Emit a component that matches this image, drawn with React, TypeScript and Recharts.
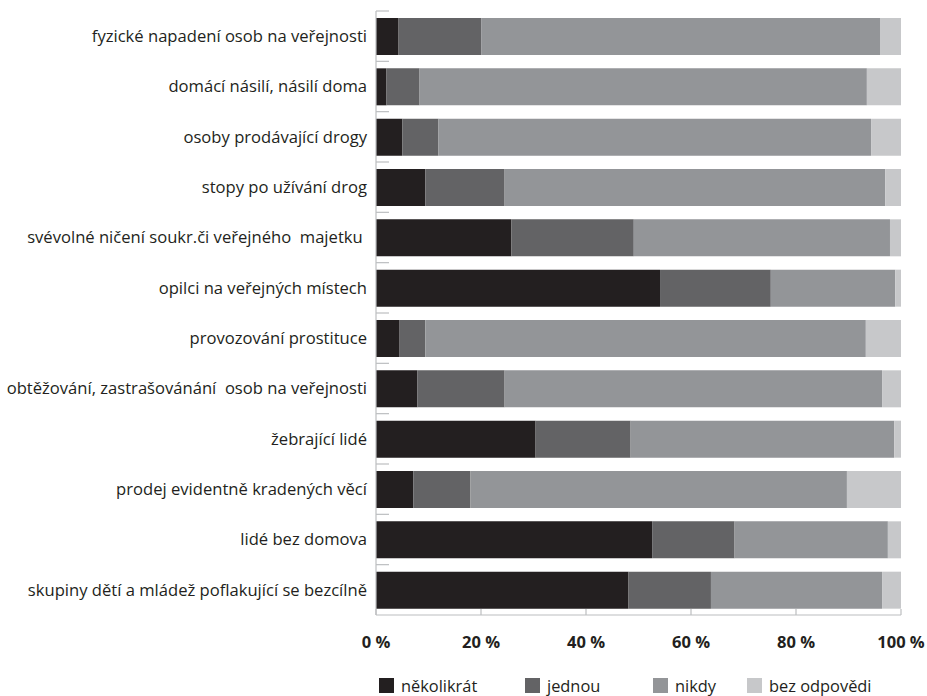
import { BarChart, Bar, XAxis, YAxis, Legend } from "recharts"

// ------------------------------------------------------------
// Data (percent of respondents)
// ------------------------------------------------------------

const categories = [
  "fyzické napadení osob na veřejnosti",
  "domácí násilí, násilí doma",
  "osoby prodávající drogy",
  "stopy po užívání drog",
  "svévolné ničení soukr.či veřejného  majetku ",
  "opilci na veřejných místech",
  "provozování prostituce",
  "obtěžování, zastrašovánání  osob na veřejnosti",
  "žebrající lidé",
  "prodej evidentně kradených věcí",
  "lidé bez domova",
  "skupiny dětí a mládež poflakující se bezcílně",
]

const severalTimes = [4.3, 2.0, 5.0, 9.4, 25.8, 54.1, 4.5, 7.9, 30.4, 7.1, 52.6, 48.1]
const once = [15.8, 6.3, 6.9, 15.1, 23.3, 21.1, 4.9, 16.6, 18.1, 10.9, 15.7, 15.7]
const never = [75.9, 85.2, 82.4, 72.5, 48.8, 23.7, 83.9, 71.9, 50.2, 71.7, 29.2, 32.6]
const noAnswer = [4.0, 6.5, 5.7, 3.0, 2.1, 1.1, 6.7, 3.6, 1.3, 10.3, 2.5, 3.6]

const xTicks = [0, 20, 40, 60, 80, 100]

const series = [
  { key: "several", label: "několikrát", color: "#231f20", values: severalTimes },
  { key: "once", label: "jednou", color: "#636365", values: once },
  { key: "never", label: "nikdy", color: "#939598", values: never },
  { key: "none", label: "bez odpovědi", color: "#c7c8ca", values: noAnswer },
]

const chartData = categories.map((name, i) => {
  const row: Record<string, string | number> = { name }
  for (const s of series) row[s.key] = s.values[i]
  return row
})

// ------------------------------------------------------------
// Layout
// ------------------------------------------------------------

const W = 927
const H = 696
const MARGIN = { top: 11, right: 26, left: 0, bottom: 0 }
const Y_AXIS_W = 376
const X_AXIS_H = 41
const LEGEND_H = 40
const PLOT_H = H - MARGIN.top - MARGIN.bottom - X_AXIS_H - LEGEND_H
const BAND = PLOT_H / categories.length

const AXIS = "#bcbec0"
const FONT = "'Open Sans', sans-serif"
const TEXT = "#231f20"

// left of the legend squares
const legendLeft = [379, 525, 653, 747]

function CategoryTick(props: any) {
  const { x, y, payload } = props
  const top = y - BAND / 2
  return (
    <g>
      <line x1={x} x2={x + 13} y1={top} y2={top} stroke={AXIS} strokeWidth={1.2} />
      <text
        x={x - 9}
        y={y}
        dy="0.35em"
        textAnchor="end"
        fontFamily={FONT}
        fontSize={16.6}
        fill={TEXT}
        style={{ whiteSpace: "pre" }}
      >
        {payload.value}
      </text>
    </g>
  )
}

function PercentTick(props: any) {
  const { x, y, payload } = props
  return (
    <g>
      <line x1={x} x2={x} y1={y - 6} y2={y} stroke={AXIS} strokeWidth={1.2} />
      <text
        x={x}
        y={y + 27}
        dy="0.35em"
        textAnchor="middle"
        fontFamily={FONT}
        fontWeight={700}
        fontSize={16.5}
        fill={TEXT}
      >
        {payload.value} %
      </text>
    </g>
  )
}

function LegendContent() {
  return (
    <div style={{ position: "relative", width: W, height: LEGEND_H }}>
      {series.map((s, i) => (
        <div
          key={s.key}
          style={{
            position: "absolute",
            left: legendLeft[i],
            top: 21,
            display: "flex",
            alignItems: "center",
            height: 17,
            lineHeight: "17px",
            fontFamily: FONT,
            fontSize: 16.4,
            color: TEXT,
            whiteSpace: "nowrap",
          }}
        >
          <span style={{ width: 15, height: 15, background: s.color, marginRight: 7, display: "inline-block" }} />
          {s.label}
        </div>
      ))}
    </div>
  )
}

export default function App() {
  return (
    <div style={{ position: "absolute", left: 0, top: 0, width: W, height: H, background: "#fff" }}>
      <BarChart width={W} height={H} data={chartData} layout="vertical" margin={MARGIN} barSize={37}>
        <XAxis
          type="number"
          domain={[0, 100]}
          ticks={xTicks}
          interval={0}
          height={X_AXIS_H}
          axisLine={{ stroke: AXIS, strokeWidth: 1.2 }}
          tickLine={false}
          tickSize={0}
          tickMargin={0}
          tick={<PercentTick />}
        />
        <YAxis
          type="category"
          dataKey="name"
          width={Y_AXIS_W}
          interval={0}
          axisLine={{ stroke: AXIS, strokeWidth: 1.2 }}
          tickLine={false}
          tickSize={0}
          tickMargin={0}
          tick={<CategoryTick />}
        />
        <Legend
          verticalAlign="bottom"
          height={LEGEND_H}
          wrapperStyle={{ left: 0, width: W, height: LEGEND_H }}
          content={<LegendContent />}
        />
        {series.map((s) => (
          <Bar key={s.key} dataKey={s.key} name={s.label} stackId="a" fill={s.color} isAnimationActive={false} />
        ))}
      </BarChart>
    </div>
  )
}
